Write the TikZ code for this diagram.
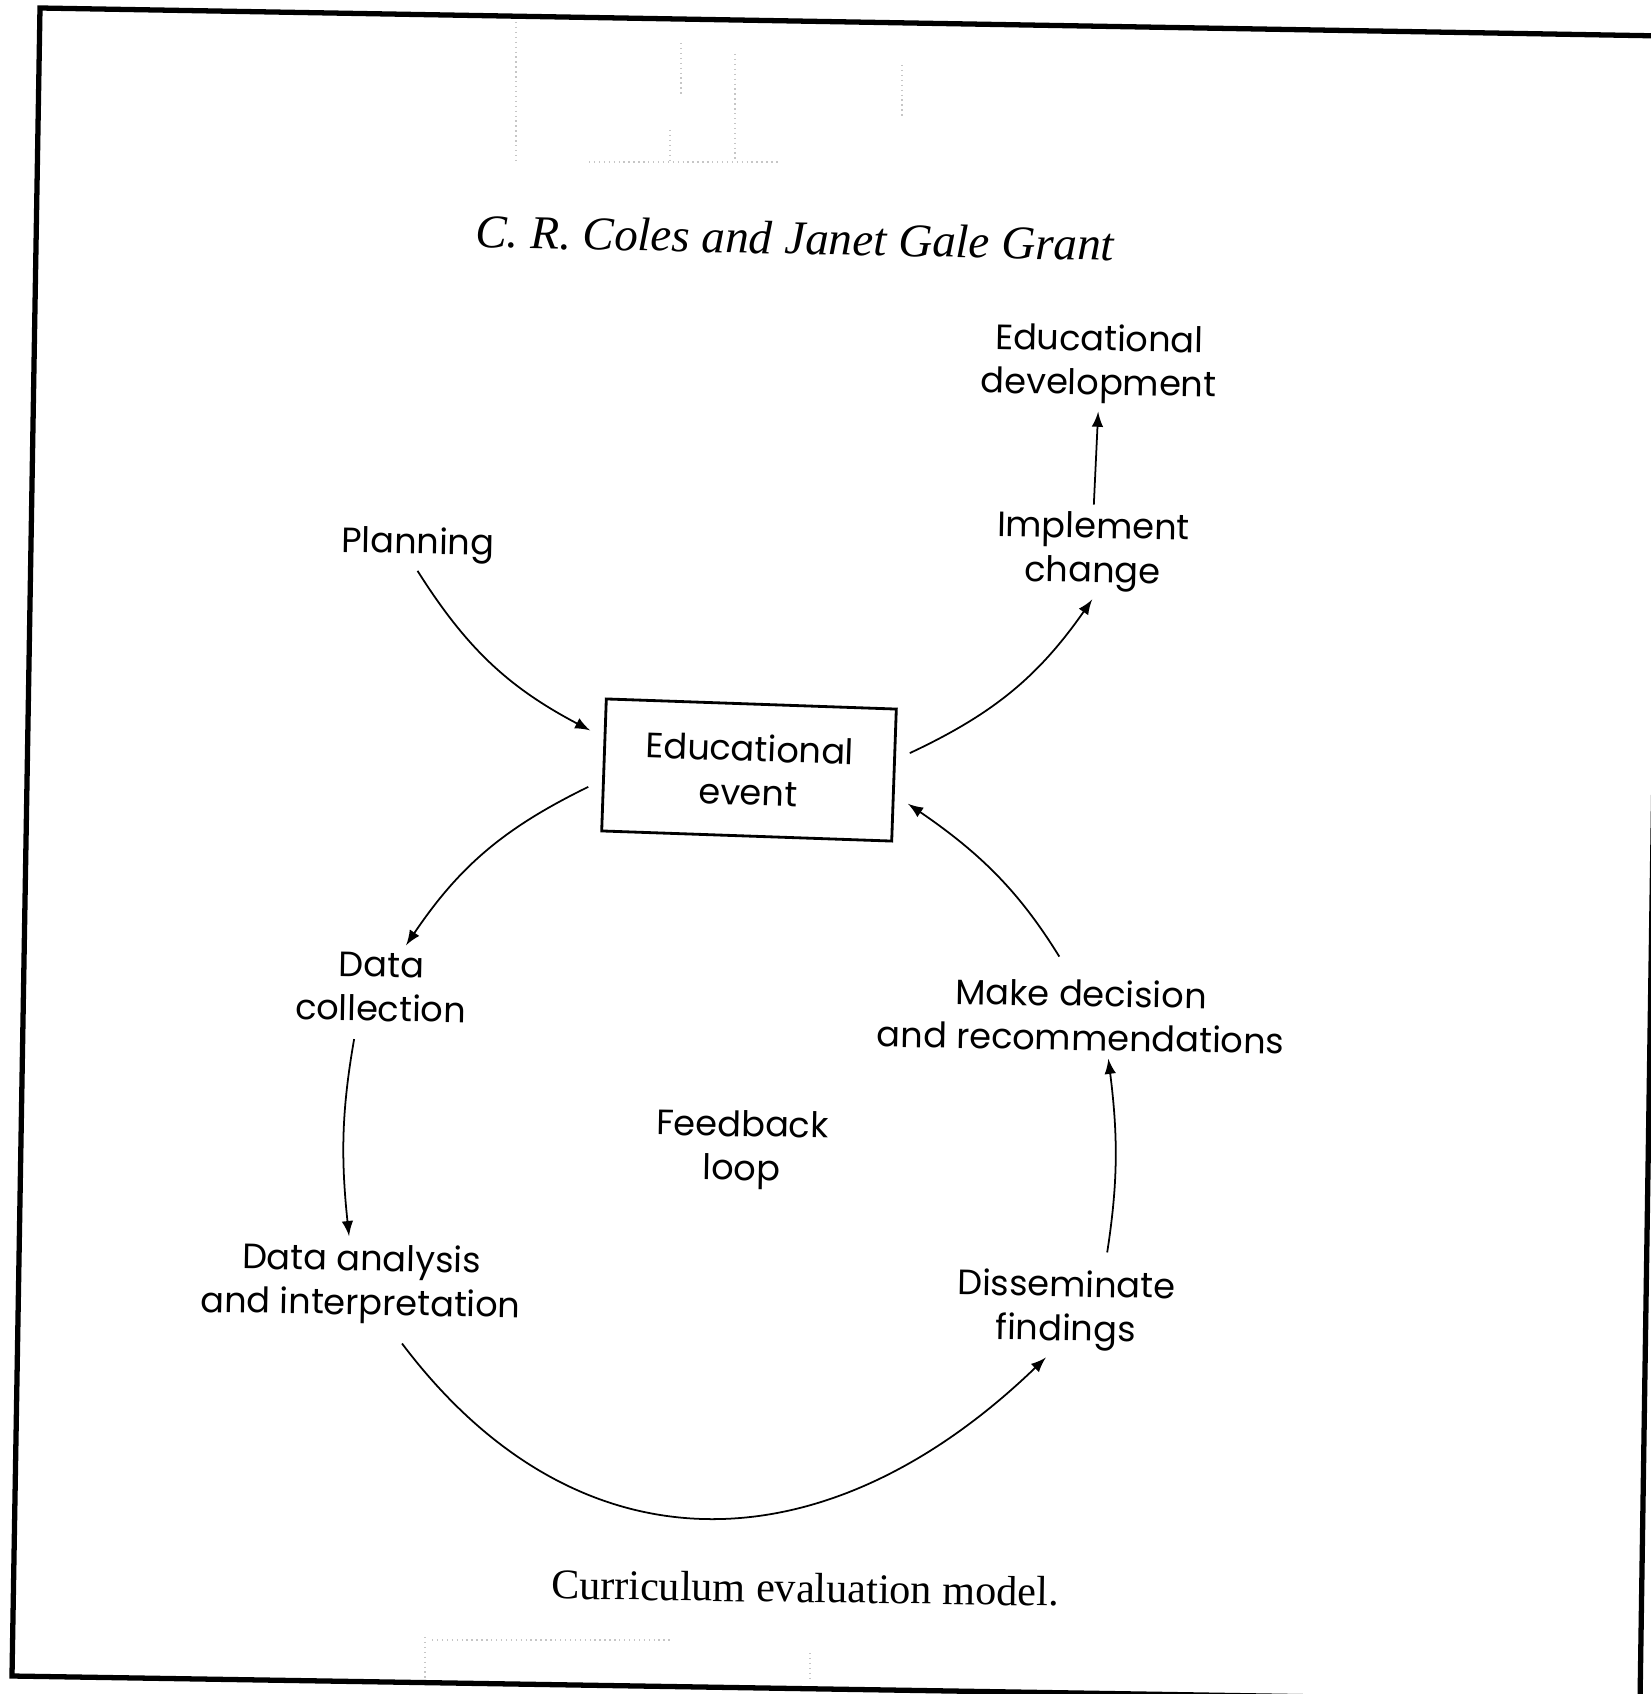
\documentclass[tikz,border=0pt]{standalone}
\usepackage{fontspec}
\setmainfont{Poppins}
\newfontfamily\serifface{Liberation Serif}

\begin{document}
\begin{tikzpicture}[
x=0.01cm,y=0.01cm,
lbl/.style={
  align=center,
  inner sep=2pt,
  font=\fontsize{10}{12.5}\selectfont,
  rotate=-1
  },
evbox/.style={
  draw,
  line width=0.8pt,
  minimum width=2.9cm,
  minimum height=1.32cm,
  outer sep=0.15cm
  },
every edge/.append style={line width=0.5pt}
]
\useasboundingbox (0,0) rectangle (1650,-1694);
% page frame of the scan
\draw[line width=1.5pt] (40,-8) -- (1665,-36) -- (1640,-1702) -- (12,-1676) -- cycle;
% faint marks showing through the paper
\draw[gray!45, densely dotted, line width=0.4pt]
  (516,-22) -- (516,-162) (681,-43) -- (681,-97) (670,-130) -- (670,-162)
  (735,-54) -- (735,-162) (902,-65) -- (902,-119) (589,-162) -- (778,-162)
  (425,-1637) -- (425,-1680) (810,-1653) -- (810,-1680) (432,-1640) -- (670,-1640);

\node[font=\serifface\itshape\fontsize{13.4}{15}\selectfont, rotate=-1.2] (title) at (795,-238) {C. R. Coles and Janet Gale Grant};

\node[lbl,evbox,rotate=-1] (event) at (749,-770) {Educational\\event};
\node[lbl] (plan) at (418,-545) {Planning};
\node[lbl] (impl) at (1093,-552) {Implement\\change};
\node[lbl] (dev) at (1099,-364) {Educational\\development};
\node[lbl] (coll) at (381,-987) {Data\\collection};
\node[lbl] (anal) at (361,-1284) {Data analysis\\and interpretation};
\node[lbl] (loop) at (742,-1150) {Feedback\\loop};
\node[lbl] (diss) at (1066,-1310) {Disseminate\\findings};
\node[lbl] (dec) at (1081,-1015) {Make decision\\and recommendations};

\node[font=\serifface\fontsize{12}{14}\selectfont, rotate=-0.8] (caption) at (805,-1588) {Curriculum evaluation model.};

\path[-latex]
  (plan.south) edge[bend right=15] (event.168)
  (event.8) edge[bend right=15] (impl.south)
  (impl.north) edge (dev.south)
  (event.188) edge[bend right=15] (coll.60)
  (coll.240) edge[bend right=8,shorten <=3pt] (anal.105)
  (anal.305) edge[out=-53,in=224,looseness=1.2,shorten <=4pt] (diss.248)
  (diss.51) edge[bend right=8,shorten <=3pt] (dec.303)
  (dec.107) edge[bend right=12,shorten <=5pt] (event.350);
\end{tikzpicture}
\end{document}
